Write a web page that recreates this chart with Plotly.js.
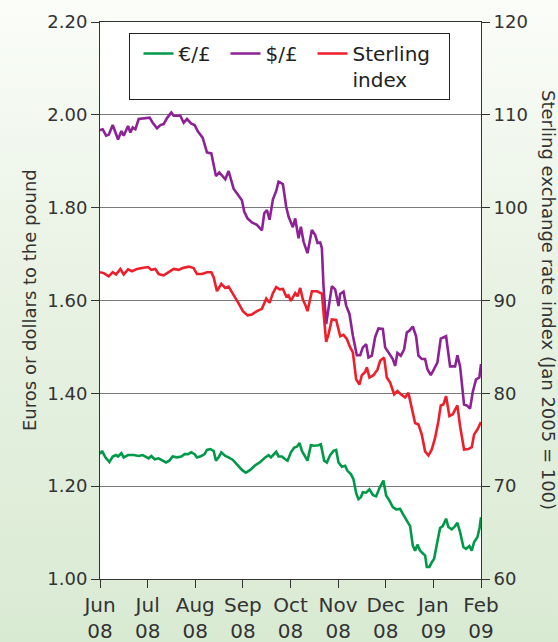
<!DOCTYPE html>
<html>
<head>
<meta charset="utf-8">
<script src="https://cdn.plot.ly/plotly-3.0.1.min.js"></script>
<style>
html,body{margin:0;padding:0;}
body{width:558px;height:642px;overflow:hidden;background:linear-gradient(180deg,#fbfdf9 0%,#eaf3e5 40%,#d9ead3 100%);}
#chart{width:558px;height:642px;}
</style>
</head>
<body>
<div id="chart"></div>
<script>
// Month ticks (x = months since 1 Jun 2008)
const monthTicks = [0,1,2,3,4,5,6,7,8];
const monthLabels = ['Jun<br>08','Jul<br>08','Aug<br>08','Sep<br>08','Oct<br>08','Nov<br>08','Dec<br>08','Jan<br>09','Feb<br>09'];

// Euro per pound
const euroX = [0,0.043,0.113,0.197,0.267,0.337,0.379,0.449,0.497,0.589,0.708,0.813,0.897,0.966,1.022,1.078,1.148,1.231,1.302,1.386,1.456,1.526,1.617,1.707,1.777,1.847,1.917,1.987,2.036,2.127,2.197,2.246,2.316,2.386,2.435,2.491,2.547,2.631,2.700,2.784,2.875,2.980,3.064,3.155,3.246,3.365,3.470,3.540,3.589,3.659,3.700,3.749,3.820,3.889,3.938,4.008,4.078,4.134,4.190,4.239,4.309,4.357,4.428,4.498,4.588,4.638,4.707,4.764,4.833,4.903,4.959,5.008,5.079,5.148,5.196,5.267,5.322,5.379,5.427,5.477,5.519,5.589,5.658,5.729,5.798,5.868,5.951,6.008,6.078,6.148,6.218,6.302,6.371,6.442,6.511,6.568,6.616,6.665,6.721,6.791,6.826,6.862,6.917,6.966,7.015,7.071,7.141,7.197,7.267,7.315,7.386,7.456,7.504,7.561,7.630,7.687,7.756,7.806,7.854,7.924,7.970,8.000];
const euroY = [1.269,1.276,1.262,1.252,1.264,1.267,1.264,1.271,1.262,1.267,1.267,1.265,1.267,1.264,1.260,1.265,1.258,1.260,1.255,1.251,1.255,1.264,1.262,1.264,1.269,1.269,1.273,1.269,1.262,1.265,1.269,1.278,1.280,1.276,1.255,1.262,1.273,1.265,1.262,1.257,1.247,1.235,1.229,1.235,1.244,1.252,1.262,1.267,1.262,1.271,1.274,1.264,1.264,1.258,1.255,1.273,1.283,1.285,1.293,1.276,1.265,1.255,1.288,1.287,1.288,1.290,1.255,1.251,1.267,1.276,1.278,1.251,1.242,1.244,1.233,1.226,1.215,1.185,1.172,1.176,1.187,1.186,1.193,1.181,1.178,1.196,1.212,1.180,1.169,1.155,1.150,1.151,1.138,1.126,1.114,1.072,1.061,1.074,1.061,1.054,1.051,1.026,1.026,1.036,1.043,1.074,1.110,1.114,1.130,1.112,1.107,1.114,1.121,1.101,1.069,1.065,1.071,1.061,1.079,1.090,1.110,1.133];

// Dollar per pound
const dollarX = [0,0.057,0.128,0.183,0.267,0.323,0.379,0.449,0.497,0.589,0.638,0.687,0.743,0.813,0.917,1.043,1.106,1.197,1.267,1.337,1.407,1.498,1.547,1.687,1.757,1.827,1.917,1.987,2.057,2.155,2.246,2.337,2.435,2.505,2.631,2.700,2.805,2.910,2.980,3.029,3.098,3.190,3.295,3.400,3.449,3.505,3.560,3.631,3.700,3.749,3.840,3.910,3.959,4.050,4.099,4.169,4.218,4.274,4.357,4.449,4.519,4.568,4.623,4.659,4.693,4.749,4.798,4.868,4.938,5.008,5.043,5.113,5.169,5.238,5.310,5.393,5.463,5.519,5.589,5.637,5.708,5.777,5.847,5.939,5.987,6.036,6.092,6.148,6.197,6.245,6.316,6.386,6.442,6.497,6.568,6.637,6.686,6.757,6.826,6.875,6.946,7.015,7.084,7.155,7.267,7.351,7.456,7.504,7.561,7.644,7.701,7.770,7.827,7.896,7.965,8.000];
const dollarY = [1.967,1.969,1.955,1.957,1.978,1.964,1.947,1.965,1.955,1.976,1.962,1.973,1.969,1.991,1.993,1.994,1.983,1.971,1.978,1.980,1.993,2.005,1.998,1.998,1.983,1.991,1.981,1.978,1.964,1.951,1.919,1.917,1.868,1.876,1.861,1.879,1.841,1.827,1.816,1.791,1.777,1.768,1.763,1.751,1.788,1.795,1.774,1.818,1.836,1.856,1.851,1.802,1.781,1.758,1.777,1.734,1.759,1.727,1.702,1.752,1.741,1.724,1.725,1.713,1.631,1.549,1.581,1.631,1.624,1.588,1.614,1.619,1.589,1.571,1.524,1.482,1.482,1.499,1.506,1.477,1.481,1.521,1.540,1.539,1.499,1.492,1.484,1.474,1.459,1.487,1.481,1.495,1.531,1.535,1.544,1.523,1.481,1.474,1.474,1.452,1.439,1.452,1.466,1.518,1.523,1.458,1.458,1.482,1.458,1.376,1.374,1.367,1.403,1.430,1.434,1.463];

// Sterling exchange rate index (Jan 2005 = 100), right axis
const indexX = [0,0.078,0.183,0.267,0.337,0.428,0.497,0.589,0.673,0.778,0.883,1.009,1.078,1.162,1.231,1.337,1.442,1.547,1.651,1.735,1.861,1.966,2.036,2.141,2.246,2.337,2.386,2.456,2.547,2.631,2.700,2.805,2.910,3.001,3.098,3.190,3.295,3.400,3.491,3.560,3.631,3.700,3.770,3.840,3.910,3.959,4.008,4.099,4.148,4.204,4.260,4.309,4.357,4.449,4.554,4.659,4.693,4.749,4.798,4.868,4.959,5.043,5.113,5.183,5.253,5.310,5.379,5.448,5.498,5.568,5.603,5.658,5.742,5.826,5.882,5.966,6.022,6.092,6.176,6.245,6.316,6.407,6.476,6.547,6.616,6.686,6.757,6.826,6.896,6.966,7.036,7.105,7.155,7.210,7.267,7.336,7.407,7.456,7.504,7.561,7.644,7.735,7.806,7.854,7.924,8.000];
const indexY = [93.05,92.95,92.6,93.05,92.8,93.4,92.8,93.35,93.15,93.4,93.5,93.6,93.3,93.4,92.85,92.7,93.05,93.4,93.3,93.5,93.65,93.5,92.85,92.85,93.05,93.05,92.5,91.0,91.8,91.35,91.5,90.65,89.7,88.85,88.4,88.5,88.85,89.1,90.2,89.75,90.8,91.45,91.2,91.25,90.45,90.55,89.95,90.8,90.45,91.35,90.1,89.55,88.85,91.0,91.0,90.75,88.7,85.55,86.35,87.95,87.9,86.15,86.3,85.85,84.95,84.4,81.5,80.95,81.95,82.3,82.8,81.7,81.95,82.55,83.5,83.85,81.7,81.15,79.9,80.25,79.9,79.55,80.05,78.35,76.8,76.65,75.55,73.75,73.3,73.95,75.2,77.0,78.7,78.8,79.7,77.55,77.75,78.25,78.7,76.45,73.95,74.0,74.2,75.55,76.1,76.9];

const seriesNames = ['€/£','$/£','Sterling<br>index'];
const seriesColors = ['#00994a','#8c2296','#ee1f2b'];

const traces = [
  {x:euroX, y:euroY, name:seriesNames[0], type:'scatter', mode:'lines', line:{color:seriesColors[0], width:2.6}, legendwidth:34},
  {x:dollarX, y:dollarY, name:seriesNames[1], type:'scatter', mode:'lines', line:{color:seriesColors[1], width:2.6}, legendwidth:34},
  {x:indexX, y:indexY, name:seriesNames[2], type:'scatter', mode:'lines', yaxis:'y2', line:{color:seriesColors[2], width:2.6}, legendwidth:92}
];

const axisColor = '#333333';
const layout = {
  width:558, height:642,
  margin:{l:100, r:77, t:22, b:63, pad:0},
  paper_bgcolor:'rgba(0,0,0,0)',
  plot_bgcolor:'#ffffff',
  font:{family:'"DejaVu Sans", sans-serif', size:18, color:'#333333'},
  showlegend:true,
  legend:{orientation:'h', x:0.0774, y:0.9803, xanchor:'left', yanchor:'top',
          bgcolor:'#ffffff', bordercolor:'#222222', borderwidth:1,
          font:{size:20, color:'#222222'}, valign:'top', indentation:8, traceorder:'normal'},
  xaxis:{range:[0,8], tickmode:'array', tickvals:monthTicks, ticktext:monthLabels,
         ticks:'outside', ticklen:8, tickwidth:1, tickcolor:axisColor,
         showline:true, linecolor:axisColor, linewidth:1, mirror:true,
         showgrid:false, zeroline:false, tickfont:{size:20, color:'#333333'}},
  yaxis:{range:[1,2.2], tick0:1, dtick:0.2, tickformat:'.2f',
         ticks:'outside', ticklen:8, tickwidth:1, tickcolor:axisColor,
         showline:true, linecolor:axisColor, linewidth:1,
         showgrid:true, gridcolor:'#7a7a7a', gridwidth:1, zeroline:false},
  yaxis2:{range:[60,120], tick0:60, dtick:10, overlaying:'y', side:'right',
          ticks:'outside', ticklen:8, tickwidth:1, tickcolor:axisColor,
          showline:true, linecolor:axisColor, linewidth:1,
          showgrid:false, zeroline:false},
  annotations:[
    {xref:'paper', yref:'paper', x:-0.185, y:0.5, xanchor:'center', yanchor:'middle',
     text:'Euros or dollars to the pound', textangle:-90, showarrow:false, font:{size:18, color:'#333333'}},
    {xref:'paper', yref:'paper', x:1.177, y:0.5, xanchor:'center', yanchor:'middle',
     text:'Sterling exchange rate index (Jan 2005 = 100)', textangle:90, showarrow:false, font:{size:18, color:'#333333'}}
  ]
};

Plotly.newPlot('chart', traces, layout, {staticPlot:true, displayModeBar:false});
</script>
</body>
</html>
